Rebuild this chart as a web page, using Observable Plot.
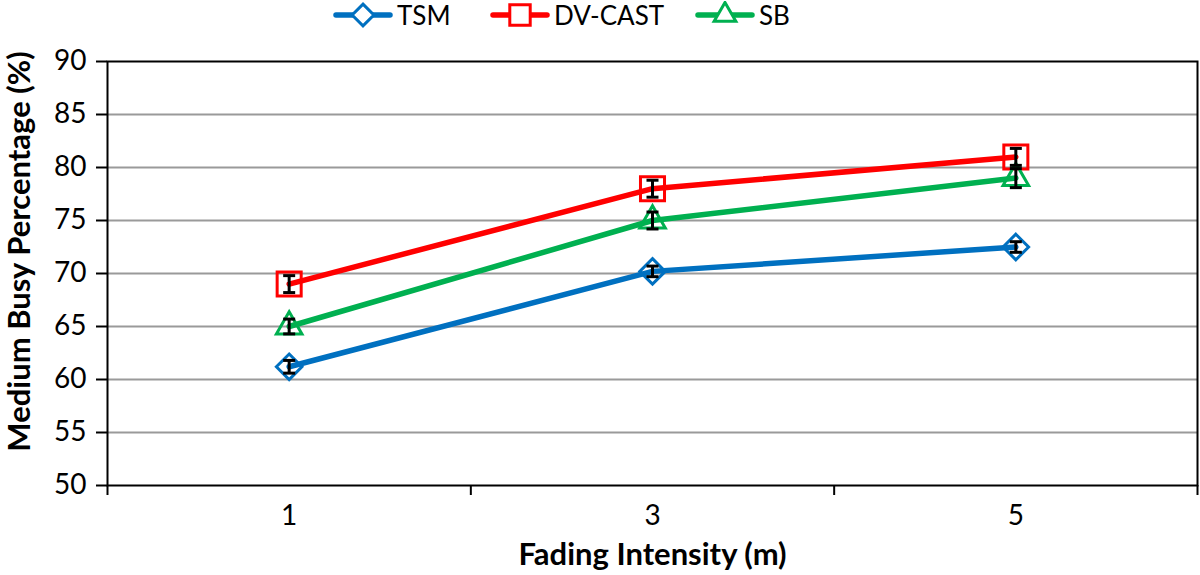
<!DOCTYPE html>
<html><head><meta charset="utf-8">
<script src="https://cdn.jsdelivr.net/npm/d3@7"></script>
<script src="https://cdn.jsdelivr.net/npm/@observablehq/plot@0.6"></script>
<style>
body{margin:0;background:#fff;font-family:Lato,"Open Sans",sans-serif;}
#wrap{position:relative;width:1200px;height:575px;overflow:hidden;}
#legend{position:absolute;left:0;top:0;width:1200px;height:32px;}
.item{position:absolute;top:0;height:30px;display:flex;align-items:center;font-size:26px;line-height:1;color:#000;white-space:nowrap;}
.item svg{margin-right:4px;}
.item span{line-height:1;}
#chart{position:absolute;left:0;top:0;}
</style>
</head><body>
<div id="wrap"><div id="chart"></div><div id="legend"></div></div>
<script>
const categories = ["1", "3", "5"];
const seriesNames = ["TSM", "DV-CAST", "SB"];
const tsmValues = [61.2, 70.2, 72.5];
const dvcastValues = [69.0, 78.0, 81.0];
const sbValues = [65.0, 75.0, 79.0];
const tsmErrors = [0.6, 0.5, 0.5];
const dvcastErrors = [0.8, 0.8, 0.8];
const sbErrors = [0.7, 0.8, 0.9];
const yTicks = [50, 55, 60, 65, 70, 75, 80, 85, 90];
const xTitle = "Fading Intensity (m)";
const yTitle = "Medium Busy Percentage (%)";

const colors = ["#0070C0", "#FF0000", "#00B050"];
const symbols = ["diamond2", "square2", "triangle2"];
const radii = [11.5, 15.3, 12.2];
const legendLeft = [333, 490, 695];

const valueSets = [tsmValues, dvcastValues, sbValues];
const errorSets = [tsmErrors, dvcastErrors, sbErrors];
const data = [];
seriesNames.forEach((s, si) => {
  categories.forEach((c, ci) => {
    data.push({series: s, cat: c, xi: ci + 0.5, value: valueSets[si][ci], err: errorSets[si][ci]});
  });
});

const capSymbol = {draw(ctx, size) { const w = Math.sqrt(size); ctx.moveTo(-w / 2, 0); ctx.lineTo(w / 2, 0); }};
const capR = 12 / Math.sqrt(Math.PI);

const marks = [
  Plot.ruleY(yTicks.filter(t => t > yTicks[0] && t < yTicks[yTicks.length - 1]), {stroke: "#9a9a9a", strokeWidth: 2}),
  Plot.axisY({ticks: yTicks, tickSize: 11, tickPadding: 10, stroke: "#000", strokeWidth: 2, fontSize: 28, label: null, fill: "#000"}),
  Plot.axisX({ticks: d3.range(categories.length + 1), tickFormat: () => "", tickSize: 10, stroke: "#000", strokeWidth: 2, label: null}),
  Plot.axisX({ticks: categories.map((c, i) => i + 0.5), tickFormat: d => categories[Math.floor(d)], tickSize: 0, tickPadding: 20, fontSize: 28, label: null, fill: "#000"}),
  Plot.frame({stroke: "#000", strokeWidth: 2}),
  Plot.line(data, {x: "xi", y: "value", z: "series", stroke: "series", strokeWidth: 5.5, strokeLinecap: "round"}),
];
seriesNames.forEach((s, si) => {
  const sub = data.filter(d => d.series === s);
  marks.push(Plot.dot(sub, {x: "xi", y: "value", symbol: symbols[si], r: radii[si], stroke: colors[si], strokeWidth: 3, fill: "none"}));
});
marks.push(
  Plot.ruleX(data, {x: "xi", y1: d => d.value - d.err, y2: d => d.value + d.err, stroke: "#000", strokeWidth: 3}),
  Plot.dot(data, {x: "xi", y: d => d.value - d.err, symbol: capSymbol, r: capR, stroke: "#000", strokeWidth: 3}),
  Plot.dot(data, {x: "xi", y: d => d.value + d.err, symbol: capSymbol, r: capR, stroke: "#000", strokeWidth: 3}),
  Plot.text([xTitle], {frameAnchor: "bottom", dy: 70, lineAnchor: "middle", fontSize: 31, fontWeight: "bold", fill: "#000", textAnchor: "middle"}),
  Plot.text([yTitle], {frameAnchor: "left", rotate: -90, dx: -87, dy: -22, fontSize: 31, fontWeight: "bold", fill: "#000", textAnchor: "middle"})
);

const chart = Plot.plot({
  width: 1200, height: 575,
  marginLeft: 107, marginRight: 3, marginTop: 61, marginBottom: 90,
  style: {fontFamily: "Lato, 'Open Sans', sans-serif", fontSize: "28px", color: "#000", background: "#fff"},
  x: {domain: [0, categories.length], axis: null},
  y: {domain: [yTicks[0], yTicks[yTicks.length - 1]], axis: null},
  color: {domain: seriesNames, range: colors},
  marks
});
document.getElementById("chart").appendChild(chart);

const legend = document.getElementById("legend");
seriesNames.forEach((s, si) => {
  const item = document.createElement("div");
  item.className = "item";
  item.style.left = legendLeft[si] + "px";
  const svg = d3.create("svg").attr("width", 60).attr("height", 28);
  svg.append("line").attr("x1", 3).attr("x2", 57).attr("y1", 14).attr("y2", 14)
    .attr("stroke", colors[si]).attr("stroke-width", 5.5).attr("stroke-linecap", "round");
  const size = Math.PI * (radii[si] * 0.85) ** 2;
  const symType = [d3.symbolDiamond2, d3.symbolSquare2, d3.symbolTriangle2][si];
  svg.append("path").attr("d", d3.symbol(symType, size)()).attr("transform", "translate(30,14)")
    .attr("fill", "#fff").attr("stroke", colors[si]).attr("stroke-width", 3);
  item.appendChild(svg.node());
  const label = document.createElement("span");
  label.textContent = s;
  item.appendChild(label);
  legend.appendChild(item);
});
</script>
</body></html>
